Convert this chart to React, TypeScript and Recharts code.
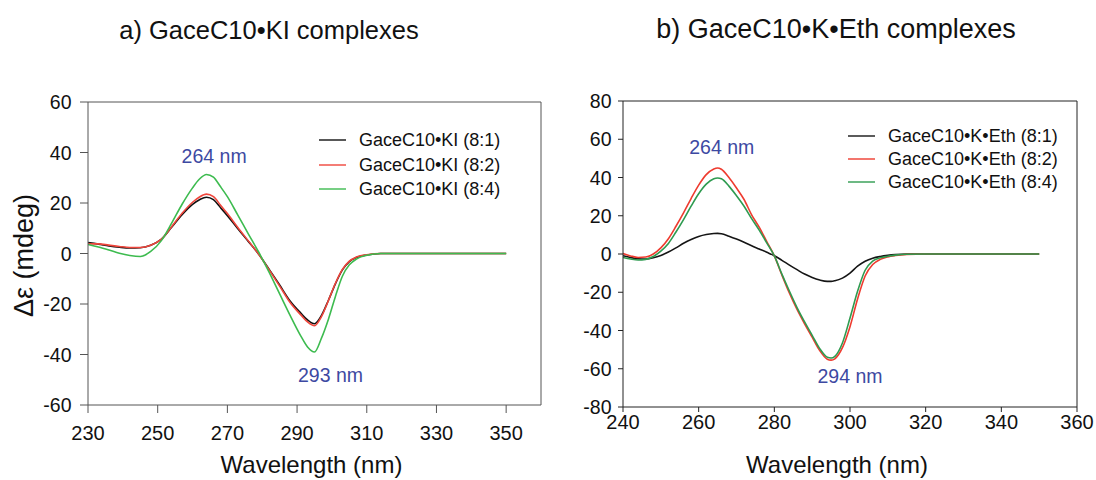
import React from 'react';
import { LineChart, Line, XAxis, YAxis, ReferenceLine, ReferenceDot, Legend, Label } from 'recharts';

const FONT = '"Liberation Sans", Arial, Helvetica, sans-serif';

// ---------- Panel a) GaceC10•KI ----------
const kiWavelength = [230, 233, 236, 239, 242, 245, 248, 251, 254, 257, 260, 262, 264, 266, 268, 270, 273, 276, 279, 282, 285, 288, 291, 293, 295, 297, 299, 301, 303, 305, 307, 310, 314, 320, 350];
const ki81 = [4.3, 3.7, 3.0, 2.5, 2.2, 2.3, 3.3, 5.6, 10.4, 15.4, 19.5, 21.3, 22.3, 21.3, 18.2, 15.0, 9.8, 4.8, -0.3, -6.3, -12.5, -18.8, -23.5, -26.3, -27.8, -24.5, -18.5, -12.0, -6.5, -3.2, -1.6, -0.6, 0, 0, 0];
const ki82 = [3.8, 3.8, 3.3, 2.8, 2.4, 2.4, 3.3, 5.6, 10.6, 15.9, 20.3, 22.4, 23.5, 22.5, 19.2, 15.8, 10.3, 5.0, -0.3, -6.5, -12.9, -19.4, -24.2, -27.1, -28.6, -25.0, -18.6, -11.8, -6.3, -3.0, -1.4, -0.5, 0, 0, 0];
const ki84 = [3.6, 2.6, 1.4, 0.1, -0.8, -1.2, 0.8, 5.0, 12.0, 19.5, 26.0, 29.5, 31.3, 30.2, 26.5, 22.5, 15.2, 7.8, 0.5, -7.5, -16.0, -24.5, -32.5, -37.0, -39.0, -33.5, -26.0, -17.0, -9.0, -4.5, -2.2, -0.7, 0, 0, 0];
const kiNames = ['GaceC10•KI (8:1)', 'GaceC10•KI (8:2)', 'GaceC10•KI (8:4)'];
const kiColors = ['#111111', '#f0463c', '#3dbb4f'];
const kiXTicks = [230, 250, 270, 290, 310, 330, 350];
const kiYTicks = [-60, -40, -20, 0, 20, 40, 60];
const kiNotes = [
  { wl: 266.2, value: 38.4, text: '264 nm' },
  { wl: 299.6, value: -48.3, text: '293 nm' },
];

// ---------- Panel b) GaceC10•K•Eth ----------
const ethWavelength = [240, 242, 244, 246, 248, 250, 252, 254, 256, 258, 260, 262, 264, 265, 266, 268, 270, 272, 274, 276, 278, 280, 282, 284, 286, 288, 290, 292, 294, 295, 296, 298, 300, 302, 304, 306, 308, 310, 312, 315, 320, 350];
const eth81 = [-0.9, -1.8, -2.5, -2.6, -2.0, -0.8, 1.0, 3.2, 5.6, 7.6, 9.2, 10.2, 10.7, 10.8, 10.6, 9.3, 7.8, 6.1, 4.3, 2.6, 0.9, -0.9, -3.3, -5.8, -8.2, -10.5, -12.3, -13.6, -14.3, -14.3, -14.0, -12.6, -10.0, -6.4, -3.8, -2.2, -1.3, -0.7, -0.3, 0, 0, 0];
const eth82 = [0.2, -1.0, -1.8, -1.6, 0.0, 3.2, 8.0, 14.5, 21.5, 29.0, 36.0, 41.5, 44.5, 45.0, 44.3, 40.0, 34.5, 28.5, 20.5, 14.0, 6.5, -1.0, -11.0, -20.5, -29.0, -36.5, -43.5, -50.5, -55.0, -55.5, -54.8, -49.0, -38.0, -23.5, -11.5, -5.5, -2.8, -1.5, -0.8, -0.2, 0, 0];
const eth84 = [-1.8, -2.6, -3.1, -2.8, -1.3, 1.5, 5.5, 11.5, 18.0, 25.0, 31.5, 36.5, 39.3, 39.7, 39.3, 35.5, 30.5, 25.0, 18.5, 12.5, 5.8, -1.0, -10.5, -19.5, -28.0, -35.5, -42.5, -49.5, -54.0, -54.4, -53.5, -46.5, -33.5, -19.5, -8.5, -3.7, -2.0, -1.2, -0.6, -0.1, 0, 0];
const ethNames = ['GaceC10•K•Eth (8:1)', 'GaceC10•K•Eth (8:2)', 'GaceC10•K•Eth (8:4)'];
const ethColors = ['#151515', '#ee3b2f', '#2e9b50'];
const ethXTicks = [240, 260, 280, 300, 320, 340, 360];
const ethYTicks = [-80, -60, -40, -20, 0, 20, 40, 60, 80];
const ethNotes = [
  { wl: 266.1, value: 56.1, text: '264 nm' },
  { wl: 300.0, value: -63.6, text: '294 nm' },
];

const NOTE_COLOR = '#3d49a2';

function buildRows(wl: number[], a: number[], b: number[], c: number[]) {
  return wl.map((w, i) => ({ wl: w, s1: a[i], s2: b[i], s3: c[i] }));
}

const kiRows = buildRows(kiWavelength, ki81, ki82, ki84);
const ethRows = buildRows(ethWavelength, eth81, eth82, eth84);

type LegendCfg = { fontSize: number; rowH: number; lineW: number; gap: number };

function makeLegend(cfg: LegendCfg) {
  return (props: any) => {
    const payload = props.payload || [];
    return (
      <div style={{ fontFamily: FONT, fontSize: cfg.fontSize, color: '#111' }}>
        {payload.map((p: any) => (
          <div key={p.value} style={{ display: 'flex', alignItems: 'center', height: cfg.rowH }}>
            <svg width={cfg.lineW} height={4} style={{ marginRight: cfg.gap, display: 'block' }}>
              <line x1={0} y1={2} x2={cfg.lineW} y2={2} stroke={p.color} strokeWidth={1.4} />
            </svg>
            <span style={{ whiteSpace: 'nowrap', lineHeight: 1 }}>{p.value}</span>
          </div>
        ))}
      </div>
    );
  };
}

function makeTick(fontSize: number, anchor: 'end' | 'middle', dyEm: string) {
  return (tp: any) => (
    <text
      x={tp.x}
      y={tp.y}
      textAnchor={anchor}
      dy={dyEm}
      fontSize={fontSize}
      fontFamily={FONT}
      fill="#111"
    >
      {tp.payload.value}
    </text>
  );
}

type PanelProps = {
  rows: any[];
  names: string[];
  colors: string[];
  xDomain: [number, number];
  yDomain: [number, number];
  xTicks: number[];
  yTicks: number[];
  notes: { wl: number; value: number; text: string }[];
  margin: { top: number; right: number; left: number; bottom: number };
  xAxisHeight: number;
  axisColor: string;
  yTickFont: number;
  xTickFont: number;
  yTickSize: number;
  yTickMargin: number;
  xTickSize: number;
  xTickMargin: number;
  legendPos: { left: number; top: number };
  legendCfg: LegendCfg;
  xLabelShift: number;
  showYLabel: boolean;
};

function Panel(p: PanelProps) {
  return (
    <LineChart width={548} height={480} data={p.rows} margin={p.margin}>
      <XAxis
        dataKey="wl"
        type="number"
        domain={p.xDomain}
        ticks={p.xTicks}
        allowDataOverflow
        height={p.xAxisHeight}
        stroke={p.axisColor}
        tickLine={{ stroke: p.axisColor }}
        tickSize={p.xTickSize}
        tickMargin={p.xTickMargin}
        tick={makeTick(p.xTickFont, 'middle', '0.71em')}
        interval={0}
      >
        <Label
          content={(lp: any) => {
            const vb = lp.viewBox;
            return (
              <text
                x={vb.x + vb.width / 2 + p.xLabelShift}
                y={473}
                textAnchor="middle"
                fontSize={24}
                fontFamily={FONT}
                fill="#111"
              >
                Wavelength (nm)
              </text>
            );
          }}
        />
      </XAxis>
      <YAxis
        type="number"
        domain={p.yDomain}
        ticks={p.yTicks}
        allowDataOverflow
        width={60}
        stroke={p.axisColor}
        tickLine={{ stroke: p.axisColor }}
        tickSize={p.yTickSize}
        tickMargin={p.yTickMargin}
        tick={makeTick(p.yTickFont, 'end', '0.36em')}
        interval={0}
      >
        {p.showYLabel && (
          <Label
            content={(lp: any) => {
              const vb = lp.viewBox;
              const cx = 23;
              const cy = vb.y + vb.height / 2 + 2;
              return (
                <text
                  x={cx}
                  y={cy}
                  transform={`rotate(-90 ${cx} ${cy})`}
                  textAnchor="middle"
                  dy="0.36em"
                  fontSize={27}
                  fontFamily={FONT}
                  fill="#111"
                >
                  Δε (mdeg)
                </text>
              );
            }}
          />
        )}
      </YAxis>
      <ReferenceLine y={p.yDomain[1]} stroke={p.axisColor} strokeWidth={1} />
      <ReferenceLine x={p.xDomain[1]} stroke={p.axisColor} strokeWidth={1} />
      {p.names.map((n, i) => (
        <Line
          key={n}
          dataKey={`s${i + 1}`}
          name={n}
          type="monotone"
          stroke={p.colors[i]}
          strokeWidth={1.6}
          dot={false}
          activeDot={false}
          isAnimationActive={false}
        />
      ))}
      {p.notes.map((nt) => (
        <ReferenceDot
          key={nt.text}
          x={nt.wl}
          y={nt.value}
          r={0}
          fill="none"
          stroke="none"
          label={{
            value: nt.text,
            position: 'center',
            fill: NOTE_COLOR,
            fontSize: 19.5,
            fontFamily: FONT,
          }}
        />
      ))}
      <Legend
        layout="vertical"
        align="center"
        verticalAlign="middle"
        content={makeLegend(p.legendCfg)}
        wrapperStyle={{ left: p.legendPos.left, top: p.legendPos.top, width: 230, height: 80 }}
      />
    </LineChart>
  );
}

export default function App() {
  return (
    <div style={{ position: 'absolute', left: 0, top: 0, width: 1096, height: 480, background: '#fff', overflow: 'hidden' }}>
      <div
        style={{
          position: 'absolute', left: 0, top: 18, width: 538, textAlign: 'center',
          fontFamily: FONT, fontSize: 25.5, lineHeight: '25px', color: '#111', whiteSpace: 'nowrap',
        }}
      >
        a) GaceC10•KI complexes
      </div>
      <div
        style={{
          position: 'absolute', left: 548, top: 17, width: 576, textAlign: 'center',
          fontFamily: FONT, fontSize: 27, lineHeight: '25px', color: '#111', whiteSpace: 'nowrap',
        }}
      >
        b) GaceC10•K•Eth complexes
      </div>
      <div style={{ position: 'absolute', left: 0, top: 0 }}>
        <Panel
          rows={kiRows}
          names={kiNames}
          colors={kiColors}
          xDomain={[230, 360]}
          yDomain={[-60, 60]}
          xTicks={kiXTicks}
          yTicks={kiYTicks}
          notes={kiNotes}
          margin={{ top: 102, right: 7, left: 28, bottom: 0 }}
          xAxisHeight={75}
          axisColor="#555"
          yTickFont={19.5}
          xTickFont={20}
          yTickSize={8}
          yTickMargin={8.5}
          xTickSize={8}
          xTickMargin={13}
          legendPos={{ left: 319, top: 128 }}
          legendCfg={{ fontSize: 18, rowH: 24.5, lineW: 27, gap: 13 }}
          xLabelShift={-3}
          showYLabel={true}
        />
      </div>
      <div style={{ position: 'absolute', left: 548, top: 0 }}>
        <Panel
          rows={ethRows}
          names={ethNames}
          colors={ethColors}
          xDomain={[240, 360]}
          yDomain={[-80, 80]}
          xTicks={ethXTicks}
          yTicks={ethYTicks}
          notes={ethNotes}
          margin={{ top: 101, right: 19, left: 15, bottom: 0 }}
          xAxisHeight={73}
          axisColor="#222"
          yTickFont={19.5}
          xTickFont={20}
          yTickSize={5}
          yTickMargin={6.5}
          xTickSize={5}
          xTickMargin={3}
          legendPos={{ left: 300, top: 124 }}
          legendCfg={{ fontSize: 18, rowH: 23, lineW: 27, gap: 13 }}
          xLabelShift={-13}
          showYLabel={false}
        />
      </div>
    </div>
  );
}
